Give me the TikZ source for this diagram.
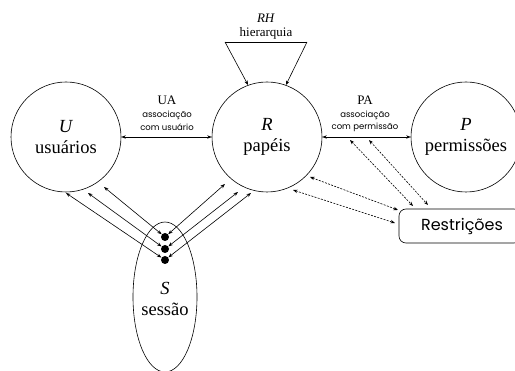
\documentclass[tikz,border=0pt]{standalone}
\usepackage{fontspec}
\setmainfont{Liberation Serif}
\newfontfamily\gothic{Poppins}
\usetikzlibrary{arrows.meta,shapes.geometric,calc}
\begin{document}
\begin{tikzpicture}[x=1pt,y=-1pt, line width=0.6pt,
  >={Stealth[length=4.5pt,width=3.4pt]},
  bigcirc/.style={circle,draw,minimum size=110pt,inner sep=0pt,align=center,font=\fontsize{18.5}{21}\selectfont},
  dotn/.style={circle,fill,minimum size=8pt,inner sep=0pt},
  serl/.style={inner sep=0pt,font=\fontsize{13}{15}\selectfont},
  sanl/.style={inner sep=0pt,font=\gothic\fontsize{8.5}{11}\selectfont},
  dsh/.style={<->, dash pattern=on 2pt off 1.3pt},
  rest/.style={draw,rounded corners=7pt,minimum width=122pt,minimum height=34pt,inner sep=0pt}
]
\useasboundingbox (0,0) rectangle (515,371);
\node[bigcirc] (U) at (66,137) {\textit{U}\\usuários};
\node[bigcirc] (R) at (267,137) {\textit{R}\\papéis};
\node[bigcirc] (P) at (466,137) {\textit{P}\\permissões};
\node[ellipse,draw,minimum width=64pt,minimum height=150pt,inner sep=0pt] (S) at (165,297) {};
\node[align=center,inner sep=0pt,font=\fontsize{18.5}{21}\selectfont] (St) at (165,299) {\textit{S}\\sessão};
\node[rest] (Rs) at (460,226) {};
\node[inner sep=0pt,font=\gothic\fontsize{16}{18}\selectfont] (Rst) at (462,226) {Restrições};

% UA
\draw[<->] (U) -- (R);
\node[serl] (ua) at (167,100) {UA};
\node[sanl] (ua2) at (167,115) {associação};
\node[sanl] (ua3) at (167,127) {com usuário};
% PA
\draw[<->] (R) -- (P);
\node[serl] (pa) at (365,100) {PA};
\node[sanl] (pa2) at (365,115) {associação};
\node[sanl] (pa3) at (365,127) {com permissão};
% RH
\coordinate (rh1) at (225,42);
\coordinate (rh2) at (307,42);
\draw (rh1) -- (rh2);
\draw[->] (rh1) -- (R.110);
\draw[->] (rh2) -- (R.70);
\node[serl] (rh) at (266,18) {\textit{RH}};
\node[serl] (rhl) at (266,33) {hierarquia};

% session dots
\node[dotn] (d1) at (165,237) {};
\node[dotn] (d2) at (165,249) {};
\node[dotn] (d3) at (165,260) {};
\coordinate (u1) at (104,187);
\coordinate (u2) at (88,193);
\coordinate (u3) at (66,193);
\coordinate (r1) at (225,184);
\coordinate (r2) at (238,192);
\coordinate (r3) at (251,193);
\draw[<->] (u1) -- (d1);
\draw[<->] (u2) -- (d2);
\draw[<->] (u3) -- (d3);
\draw[<->] (r1) -- (d1);
\draw[<->] (r2) -- (d2);
\draw[<->] (r3) -- (d3);

% restrictions
\coordinate (p1) at (350,140);
\coordinate (p2) at (369,140);
\coordinate (q1) at (310,177);
\coordinate (q2) at (293,190);
\coordinate (t1) at (413,206);
\coordinate (t2) at (428,205);
\coordinate (t3) at (398,210);
\coordinate (t4) at (395,223);
\draw[dsh] (p1) -- (t1);
\draw[dsh] (p2) -- (t2);
\draw[dsh] (q1) -- (t3);
\draw[dsh] (q2) -- (t4);
\end{tikzpicture}
\end{document}
